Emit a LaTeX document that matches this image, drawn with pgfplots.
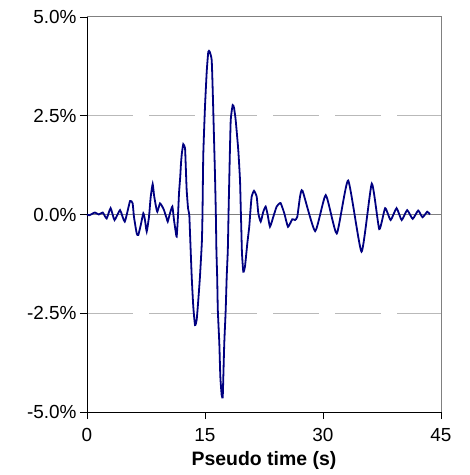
\documentclass[border=0pt]{standalone}
\usepackage{pgfplots}
\pgfplotsset{compat=1.18}
\usepackage{fontspec}
\setmainfont{Liberation Sans}
\definecolor{wave}{RGB}{0,0,128}
\definecolor{gridgray}{RGB}{185,185,185}
\definecolor{axgray}{RGB}{128,128,128}
\begin{document}
\begin{tikzpicture}
\begin{axis}[
  scale only axis,
  width=354bp, height=395bp,
  xmin=0, xmax=45, ymin=-5, ymax=5,
  xtick={0,15,30,45},
  ytick={-5,-2.5,0,2.5,5},
  axis x line=bottom, axis y line=left,
  axis line style={-, black, line width=0.8bp},
  tick align=outside,
  major tick length=7bp,
  tick style={black, line width=0.8bp},
  ymajorgrids,
  major grid style={gridgray, line width=1bp, dash pattern=on 46bp off 16bp},
  /pgf/number format/assume math mode=true,
  ticklabel style={font=\fontsize{19}{22}\selectfont},
  yticklabel={\pgfmathprintnumber[fixed,fixed zerofill,precision=1]{\tick}\%},
  xticklabel style={yshift=-6bp},
  xlabel={Pseudo time (s)},
  xlabel style={font=\fontsize{19.5}{22}\selectfont\bfseries, at={(axis description cs:0.5,0)}, anchor=base, yshift=-53bp},
  clip=false,
]
\draw[axgray, line width=1bp] (axis cs:0,0) -- (axis cs:45,0);
\draw[axgray, line width=1bp] (axis cs:0,5) -- (axis cs:45,5) -- (axis cs:45,-5);
\addplot[wave, line width=1.8bp, smooth, tension=0.3] coordinates {
(0,0) (0.3,-0.02) (1.0,0.05) (1.5,0.0) (2.0,0.05) (2.5,-0.1) (3.0,0.16) (3.5,-0.14)
(4.2,0.11) (4.8,-0.18) (5.47,0.34) (5.8,0.28) (5.97,-0.06) (6.32,-0.48) (6.52,-0.52)
(6.83,-0.27) (7.16,0.03) (7.37,-0.14) (7.59,-0.43) (7.88,-0.06) (8.1,0.45) (8.35,0.77)
(8.52,0.49) (8.77,0.2) (8.94,0.07) (9.28,0.28) (9.57,0.2) (9.79,0.11) (10.13,-0.1)
(10.26,-0.18) (10.55,0.03) (10.85,0.2) (11.06,-0.14) (11.27,-0.43) (11.4,-0.56)
(11.55,-0.1) (11.7,0.55) (11.85,0.95) (11.95,1.3) (12.06,1.55) (12.24,1.78) (12.46,1.68)
(12.55,1.25) (12.67,0.62) (12.85,0.15) (13.0,0.0) (13.1,-0.5) (13.31,-1.57) (13.51,-2.33)
(13.73,-2.8) (13.94,-2.67) (14.15,-2.16) (14.36,-1.57) (14.6,-0.7) (14.68,0.0) (14.78,1.5)
(15.0,2.73) (15.22,3.62) (15.42,4.12) (15.6,4.12) (15.85,3.91) (15.98,3.15) (16.14,1.97)
(16.27,1.0) (16.38,0.0) (16.45,-0.9) (16.55,-1.6) (16.63,-2.42) (16.82,-3.26) (16.95,-4.11)
(17.12,-4.57) (17.25,-4.63) (17.33,-4.11) (17.45,-3.26) (17.63,-2.42) (17.76,-1.57)
(17.9,-0.9) (18.0,0.1) (18.12,1.2) (18.27,2.39) (18.52,2.77) (18.69,2.7) (18.9,2.39)
(19.23,1.63) (19.45,0.87) (19.54,0.2) (19.62,-0.39) (19.7,-0.98) (19.87,-1.45)
(20.08,-1.32) (20.38,-0.73) (20.63,-0.3) (20.75,0.03) (20.93,0.45) (21.23,0.6)
(21.57,0.45) (21.78,0.03) (22.08,-0.18) (22.41,0.07) (22.71,0.2) (22.97,-0.01)
(23.26,-0.31) (23.68,-0.06) (24.11,0.2) (24.6,0.29) (25.08,0.03) (25.55,-0.31)
(26.1,-0.12) (26.44,-0.14) (26.73,-0.06) (27.08,0.45) (27.4,0.6) (29.0,-0.42)
(30.35,0.49) (31.75,-0.48) (33.2,0.86) (34.9,-0.94) (36.2,0.78) (37.15,-0.37)
(37.9,0.16) (38.6,-0.14) (39.35,0.16) (40.0,-0.14) (40.7,0.11) (41.4,-0.11) (42.1,0.1)
(42.65,-0.07) (43.25,0.07) (43.6,0.0)
};
\end{axis}
\path[use as bounding box] ([shift={(-87bp,-63bp)}]current axis.south west) rectangle ++(470bp,475bp);
\end{tikzpicture}
\end{document}
